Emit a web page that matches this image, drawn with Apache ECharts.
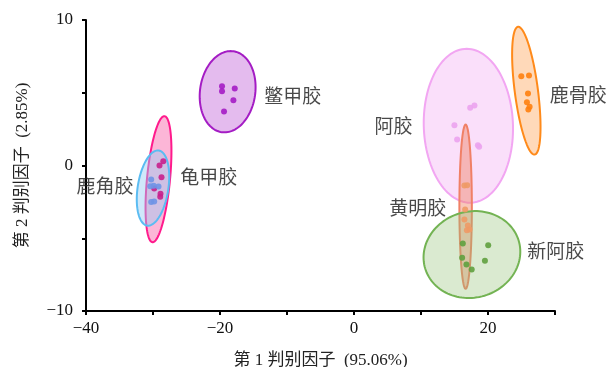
<!DOCTYPE html>
<html>
<head>
<meta charset="utf-8">
<script src="https://cdn.jsdelivr.net/npm/echarts@6/dist/echarts.min.js"></script>
<style>
  html, body { margin: 0; padding: 0; background: #fff; }
  #chart { width: 607px; height: 367px; }
</style>
</head>
<body>
<div id="chart"></div>
<script>
// Group names
const groups = ['鳖甲胶', '龟甲胶', '鹿角胶', '阿胶', '鹿骨胶', '黄明胶', '新阿胶'];

// Discriminant scores (factor 1, factor 2) per sample
const biejia = [[-19.7, 5.45], [-19.7, 5.1], [-17.8, 5.3], [-18.0, 4.49], [-19.4, 3.71]];
const guijia = [[-28.47, 0.30], [-29.03, 0.0], [-28.73, -0.80], [-29.82, -1.58], [-28.88, -1.95], [-28.92, -2.15]];
const lujiao = [[-30.27, -0.96], [-30.42, -1.42], [-29.18, -1.44], [-29.9, -1.40], [-30.27, -2.51], [-29.82, -2.47]];
const ejiao = [[17.34, 3.97], [17.98, 4.12], [14.99, 2.77], [15.39, 1.79], [18.49, 1.40], [18.68, 1.29]];
const lugu = [[24.97, 6.14], [26.12, 6.19], [25.97, 4.95], [25.81, 4.35], [26.21, 4.03], [26.02, 3.85]];
const huangming = [[16.48, -1.37], [16.89, -1.35], [16.59, -3.02], [16.48, -3.71], [16.99, -4.12], [17.23, -4.40], [16.85, -4.45]];
const xinejiao = [[16.24, -5.36], [20.03, -5.48], [16.14, -6.34], [19.54, -6.55], [16.78, -6.80], [17.57, -7.15]];

// Confidence ellipses: centre (cx, cy) and conjugate half-axes U, V in data units
const ellipses = [
  [-18.86, 5.07, 0.87, 2.78, 4.08, -0.27],   // 鳖甲胶
  [-29.18, -0.94, 0.90, 4.33, 1.71, -0.075], // 龟甲胶
  [-30.0, -1.55, 0.87, 2.58, 2.26, -0.16],   // 鹿角胶
  [17.07, 2.73, -0.25, 5.29, 6.66, 0],       // 阿胶
  [25.72, 5.14, -1.24, 4.39, 1.72, 0.10],    // 鹿骨胶
  [16.66, -2.83, 0, 5.64, 0.93, 0],          // 黄明胶
  [17.60, -6.12, 7.22, 0.2, 0, 2.98]         // 新阿胶
];

// Group label anchors
const labelPos = [[-9.16, 4.81], [-21.69, -0.78], [-37.16, -1.37], [5.88, 2.76], [33.46, 4.88], [9.51, -2.89], [30.1, -5.84]];

// Axis settings
const xTicks = [-40, -20, 0, 20];
const yTicks = [-10, 0, 10];

const pointSets = [biejia, guijia, lujiao, ejiao, lugu, huangming, xinejiao];
const pointColors = ['#a41cc4', '#c8208c', '#6f93e6', '#eba3ee', '#ff7f0e', '#ee9a66', '#5fa03e'];
const strokeColors = ['#a41cc4', '#ff1a8c', '#5bbcf2', '#f2a6f2', '#ff8a1a', '#f08066', '#73b353'];
const fillColors = ['rgba(178,60,205,0.35)', 'rgba(248,80,160,0.42)', 'rgba(150,205,245,0.45)',
                    'rgba(242,170,242,0.38)', 'rgba(255,160,80,0.40)', 'rgba(240,130,100,0.45)',
                    'rgba(150,195,120,0.35)'];

const fmtNum = v => (v < 0 ? '\u2212' + (-v) : String(v));

const ellipseSeries = {
  type: 'custom',
  z: 1,
  silent: true,
  clip: false,
  data: ellipses.map(e => ({ value: e })),
  encode: { x: 0, y: 1 },
  renderItem: function (params, api) {
    const i = params.dataIndex;
    const cx = api.value(0), cy = api.value(1);
    const ux = api.value(2), uy = api.value(3), vx = api.value(4), vy = api.value(5);
    const pts = [];
    const n = 120;
    for (let k = 0; k < n; k++) {
      const t = 2 * Math.PI * k / n;
      pts.push(api.coord([cx + ux * Math.cos(t) + vx * Math.sin(t), cy + uy * Math.cos(t) + vy * Math.sin(t)]));
    }
    return {
      type: 'polygon',
      shape: { points: pts },
      style: { fill: fillColors[i], stroke: strokeColors[i], lineWidth: 2 }
    };
  }
};

const pointSeries = pointSets.map((pts, i) => ({
  type: 'scatter',
  name: groups[i],
  z: 3,
  symbolSize: 6,
  itemStyle: { color: pointColors[i], opacity: 0.9 },
  data: pts
}));

const labelSeries = {
  type: 'scatter',
  z: 4,
  symbolSize: 0,
  silent: true,
  clip: false,
  data: labelPos.map((p, i) => ({ value: p, name: groups[i] })),
  label: {
    show: true,
    position: 'inside',
    formatter: '{b}',
    color: '#1a1a1a',
    fontSize: 19,
    fontFamily: '"Noto Sans CJK SC", sans-serif'
  }
};

const axisFont = '"Liberation Serif", "Noto Sans CJK SC", serif';

const chart = echarts.init(document.getElementById('chart'), null, { renderer: 'canvas' });
chart.setOption({
  animation: false,
  backgroundColor: '#fff',
  grid: { left: 86, right: 52, top: 20, bottom: 56, containLabel: false, outerBoundsMode: 'none' },
  xAxis: {
    type: 'value',
    min: -40, max: 30, interval: 10,
    axisLine: { show: true, onZero: false, lineStyle: { color: '#000', width: 2 } },
    axisTick: { show: true, inside: false, length: 4, lineStyle: { color: '#000', width: 2 } },
    splitLine: { show: false },
    axisLabel: {
      color: '#111', fontSize: 17, fontFamily: axisFont, margin: 9,
      formatter: v => (xTicks.indexOf(v) >= 0 ? fmtNum(v) : '')
    },
    name: '第 1 判别因子  (95.06%)',
    nameLocation: 'middle',
    nameGap: 41,
    nameTextStyle: { color: '#222', fontSize: 17, fontFamily: axisFont }
  },
  yAxis: {
    type: 'value',
    min: -10, max: 10, interval: 5,
    axisLine: { show: true, onZero: false, lineStyle: { color: '#000', width: 2 } },
    axisTick: { show: true, inside: false, length: 4, lineStyle: { color: '#000', width: 2 } },
    splitLine: { show: false },
    axisLabel: {
      color: '#111', fontSize: 17, fontFamily: axisFont, margin: 13,
      formatter: v => (yTicks.indexOf(v) >= 0 ? fmtNum(v) : '')
    },
    name: '第 2 判别因子  (2.85%)',
    nameLocation: 'middle',
    nameGap: 55,
    nameTextStyle: { color: '#222', fontSize: 17, fontFamily: axisFont }
  },
  series: [ellipseSeries].concat(pointSeries, [labelSeries])
});
</script>
</body>
</html>
